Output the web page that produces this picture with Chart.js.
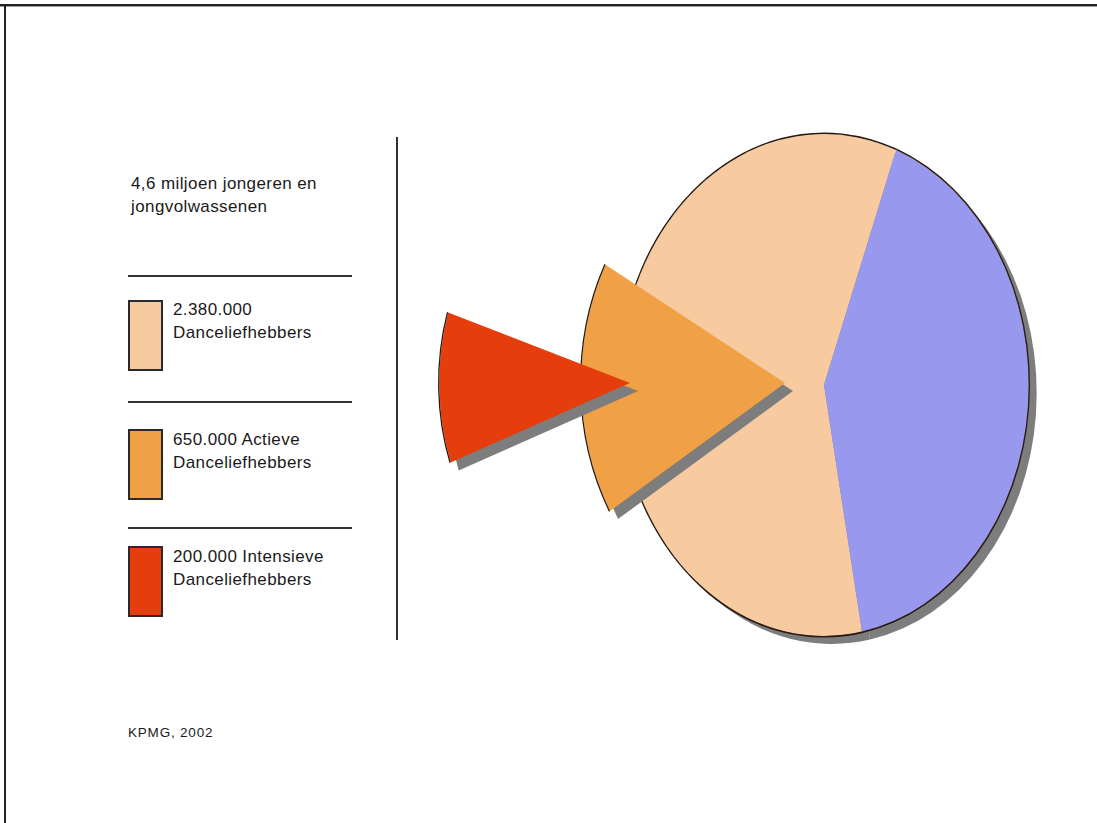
<!DOCTYPE html>
<html>
<head>
<meta charset="utf-8">
<script src="https://cdn.jsdelivr.net/npm/chart.js@4"></script>
<style>
  html, body { margin: 0; padding: 0; background: #fff; }
  body { width: 1097px; height: 823px; position: relative; overflow: hidden;
         font-family: 'Liberation Sans', Arial, sans-serif; color: #1a1a1a; }
  .abs { position: absolute; }
  .frameTop { left: 0; top: 4px; width: 1097px; height: 2px; background: #222; }
  .frameTop2 { left: 0; top: 6px; width: 1097px; height: 1px; background: #999; }
  .frameLeft { left: 4px; top: 4px; width: 2px; height: 819px; background: #222; }
  .txt { font-size: 17px; line-height: 23px; letter-spacing: 0.4px; white-space: nowrap; }
  .hline { height: 2px; background: #333; left: 128px; width: 224px; }
  .vline { left: 396px; top: 137px; width: 2px; height: 503px; background: #333; }
  .box { width: 35px; height: 71px; box-sizing: border-box; border: 2px solid #2a2a2a; left: 128px; }
  .src { font-size: 13.5px; line-height: 16px; letter-spacing: 0.8px; white-space: nowrap; }
  .chartBox { position: absolute; width: 480px; height: 560px; }
</style>
</head>
<body>
<div class="abs frameTop"></div>
<div class="abs frameTop2"></div>
<div class="abs frameLeft"></div>

<div id="title" class="abs txt" style="left:131px; top:172px;"></div>
<div class="abs hline" style="top:275px;"></div>
<div class="abs hline" style="top:401px;"></div>
<div class="abs hline" style="top:527px;"></div>
<div class="abs vline"></div>
<div id="legend"></div>
<div id="source" class="abs src" style="left:128px; top:725px;"></div>

<div class="chartBox" id="wrapBase" style="left:584px; top:105px;"><canvas id="cBase"></canvas></div>
<div class="chartBox" id="wrapActive" style="left:545px; top:103px;"><canvas id="cActive"></canvas></div>
<div class="chartBox" id="wrapIntensive" style="left:390px; top:103px;"><canvas id="cIntensive"></canvas></div>

<script>
// ---- data ----
const titleLines = ['4,6 miljoen jongeren en', 'jongvolwassenen'];
const legendLines = [
  ['2.380.000', 'Danceliefhebbers'],
  ['650.000 Actieve', 'Danceliefhebbers'],
  ['200.000 Intensieve', 'Danceliefhebbers']
];
const sourceText = 'KPMG, 2002';

// whole population pie: shares of the ellipse as drawn (percent), clockwise from start angle
const baseLabels = ['Danceliefhebbers', 'Overige jongeren'];
const baseShares = [58.7, 41.3];
const baseStart = 169.3;           // degrees clockwise from top

// exploded slices: share of the circle (percent) and start angle (degrees)
const activeShare = 16.4;
const activeStart = 239.2;
const intensiveShare = 10.4;
const intensiveStart = 250.1;

// ---- colours ----
const colBlue = '#9898EE';
const colPeach = '#F7CB9F';
const colOrange = '#F0A045';
const colRed = '#E63D0D';
const legendColors = [colPeach, colOrange, colRed];
const outlineColor = '#2a1a10';
const none = 'rgba(0,0,0,0)';
const shadowColor = '#7d7d7d';

// ---- text ----
document.getElementById('title').innerHTML = titleLines.join('<br>');
document.getElementById('source').textContent = sourceText;
const legendTops = [298, 428, 545];
const boxTops = [300, 429, 546];
const legendEl = document.getElementById('legend');
legendLines.forEach((lines, i) => {
  const b = document.createElement('div');
  b.className = 'abs box';
  b.style.top = boxTops[i] + 'px';
  b.style.background = legendColors[i];
  legendEl.appendChild(b);
  const t = document.createElement('div');
  t.className = 'abs txt';
  t.style.left = '173px';
  t.style.top = legendTops[i] + 'px';
  t.innerHTML = lines.join('<br>');
  legendEl.appendChild(t);
});

// ---- plugin: stretch the pie vertically into an ellipse and cast a hard shadow ----
const ellipsePlugin = {
  id: 'ellipse',
  beforeDatasetsDraw(chart, args, opts) {
    const ctx = chart.ctx, a = chart.chartArea;
    const cx = (a.left + a.right) / 2, cy = (a.top + a.bottom) / 2;
    ctx.save();
    ctx.translate(cx, cy);
    ctx.scale(1, opts.ky);
    ctx.translate(-cx, -cy);
    ctx.shadowOffsetX = 8;
    ctx.shadowOffsetY = 8;
    ctx.shadowBlur = 0;
  },
  beforeDatasetDraw(chart, args) {
    // outline ring (dataset 0) casts no shadow; the filled pie does
    chart.ctx.shadowColor = args.index === 0 ? 'rgba(0,0,0,0)' : shadowColor;
  },
  afterDatasetsDraw(chart) { chart.ctx.restore(); }
};

function makePie(id, radius, rotation, values, fills, outlineMask) {
  return new Chart(document.getElementById(id), {
    type: 'pie',
    data: {
      labels: values.map((v, i) => String(i)),
      datasets: [
        { // thin outline ring along the outer arc
          data: values,
          backgroundColor: outlineMask.map(m => m ? outlineColor : none),
          borderWidth: 0,
          weight: 1.3
        },
        {
          data: values,
          backgroundColor: fills,
          borderWidth: 0,
          weight: radius
        }
      ]
    },
    options: {
      responsive: true,
      maintainAspectRatio: false,
      animation: false,
      events: [],
      rotation: rotation,
      radius: radius,
      layout: { padding: 0 },
      plugins: {
        legend: { display: false },
        tooltip: { enabled: false },
        ellipse: { ky: 1.226 }
      }
    },
    plugins: [ellipsePlugin]
  });
}

makePie('cBase', 206, baseStart, baseShares, [colPeach, colBlue], [true, true]);
makePie('cActive', 205, activeStart, [activeShare, 100 - activeShare], [colOrange, none], [true, false]);
makePie('cIntensive', 192, intensiveStart, [intensiveShare, 100 - intensiveShare], [colRed, none], [true, false]);
</script>
</body>
</html>
